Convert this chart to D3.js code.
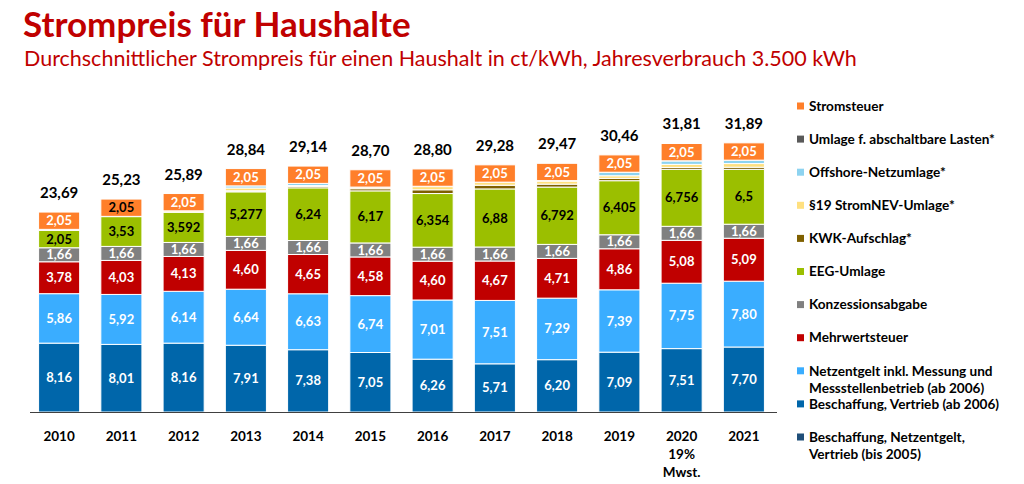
<!DOCTYPE html>
<html>
<head>
<meta charset="utf-8">
<script src="https://cdn.jsdelivr.net/npm/d3@7"></script>
<style>
	body { margin: 0; background: #fff; }
	svg { font-family: Lato, "Open Sans", sans-serif; }
</style>
</head>
<body>
<script>
// Data (ct/kWh)
const years = ["2010", "2011", "2012", "2013", "2014", "2015", "2016", "2017", "2018", "2019", "2020", "2021"];
const totals = [23.69, 25.23, 25.89, 28.84, 29.14, 28.70, 28.80, 29.28, 29.47, 30.46, 31.81, 31.89];

const beschaffung = [8.16, 8.01, 8.16, 7.91, 7.38, 7.05, 6.26, 5.71, 6.20, 7.09, 7.51, 7.70];
const netzentgelt = [5.86, 5.92, 6.14, 6.64, 6.63, 6.74, 7.01, 7.51, 7.29, 7.39, 7.75, 7.80];
const mehrwertsteuer = [3.78, 4.03, 4.13, 4.60, 4.65, 4.58, 4.60, 4.67, 4.71, 4.86, 5.08, 5.09];
const konzession = [1.66, 1.66, 1.66, 1.66, 1.66, 1.66, 1.66, 1.66, 1.66, 1.66, 1.66, 1.66];
const eeg = [2.05, 3.53, 3.592, 5.277, 6.24, 6.17, 6.354, 6.88, 6.792, 6.405, 6.756, 6.5];
const kwk = [0.13, 0.03, 0.002, 0.126, 0.178, 0.254, 0.445, 0.438, 0.345, 0.28, 0.226, 0.254];
const stromnev = [0, 0, 0.151, 0.329, 0.092, 0.19, 0.378, 0.36, 0.37, 0.305, 0.358, 0.432];
const offshore = [0, 0, 0, 0.25, 0.25, 0, 0.04, 0, 0.037, 0.416, 0.416, 0.395];
const abschaltbar = [0, 0, 0, 0, 0.009, 0.006, 0, 0.006, 0.011, 0.005, 0.007, 0.009];
const stromsteuer = [2.05, 2.05, 2.05, 2.05, 2.05, 2.05, 2.05, 2.05, 2.05, 2.05, 2.05, 2.05];

const series = [
	{ key: "beschaffung", values: beschaffung, color: "#0066AA", label: true, text: "#fff" },
	{ key: "netzentgelt", values: netzentgelt, color: "#3AADFF", label: true, text: "#fff" },
	{ key: "mehrwertsteuer", values: mehrwertsteuer, color: "#C00000", label: true, text: "#fff" },
	{ key: "konzession", values: konzession, color: "#808080", label: true, text: "#fff" },
	{ key: "eeg", values: eeg, color: "#9BBF00", label: true, text: "#000" },
	{ key: "kwk", values: kwk, color: "#7F6000", label: false },
	{ key: "stromnev", values: stromnev, color: "#FFE07F", label: false },
	{ key: "offshore", values: offshore, color: "#8DD3F0", label: false },
	{ key: "abschaltbar", values: abschaltbar, color: "#595959", label: false },
	{ key: "stromsteuer", values: stromsteuer, color: "#FF7F2A", label: true, text: "#fff" },
];

const legendItems = [
	{ color: "#FF7F2A", lines: ["Stromsteuer"] },
	{ color: "#595959", lines: ["Umlage f. abschaltbare Lasten*"] },
	{ color: "#8DD3F0", lines: ["Offshore-Netzumlage*"] },
	{ color: "#FFE07F", lines: ["§19 StromNEV-Umlage*"] },
	{ color: "#7F6000", lines: ["KWK-Aufschlag*"] },
	{ color: "#9BBF00", lines: ["EEG-Umlage"] },
	{ color: "#808080", lines: ["Konzessionsabgabe"] },
	{ color: "#C00000", lines: ["Mehrwertsteuer"] },
	{ color: "#3AADFF", lines: ["Netzentgelt inkl. Messung und", "Messstellenbetrieb (ab 2006)"] },
	{ color: "#0066AA", lines: ["Beschaffung, Vertrieb (ab 2006)"] },
	{ color: "#1F4E79", lines: ["Beschaffung, Netzentgelt,", "Vertrieb (bis 2005)"] },
];

const w = 1024;
const h = 484;
const baseY = 412;

const svg = d3.select("body").append("svg").attr("width", w).attr("height", h);

// Title
svg.append("text")
	.attr("x", 23)
	.attr("y", 37)
	.attr("fill", "#C00000")
	.attr("font-size", 35)
	.attr("font-weight", "bold")
	.text("Strompreis für Haushalte");

svg.append("text")
	.attr("x", 24)
	.attr("y", 66)
	.attr("fill", "#C00000")
	.attr("font-size", 21.5)
	.text("Durchschnittlicher Strompreis für einen Haushalt in ct/kWh, Jahresverbrauch 3.500 kWh");

// Scales
const x = d3.scaleBand().domain(years).range([28, 775]).paddingInner(0.34).paddingOuter(0.17);
const y = d3.scaleLinear().domain([0, 32]).range([baseY, baseY - 32 * 8.44]);

// Stack
const table = years.map((yr, i) => {
	const row = { year: yr };
	series.forEach((s) => (row[s.key] = s.values[i]));
	return row;
});
const stacked = d3.stack().keys(series.map((s) => s.key))(table);

const layers = svg.selectAll("g.layer")
	.data(stacked)
	.enter()
	.append("g")
	.attr("class", "layer")
	.attr("fill", (d, i) => series[i].color);

layers.selectAll("rect")
	.data((d) => d)
	.enter()
	.append("rect")
	.attr("x", (d) => x(d.data.year))
	.attr("width", x.bandwidth())
	.attr("y", (d) => y(d[1]))
	.attr("height", (d) => Math.max(0, y(d[0]) - y(d[1])))
	.attr("stroke", "#fff")
	.attr("stroke-width", 1);

// Segment labels
stacked.forEach((layer, si) => {
	const s = series[si];
	if (!s.label) return;
	svg.append("g")
		.selectAll("text")
		.data(layer)
		.enter()
		.append("text")
		.attr("x", (d) => x(d.data.year) + x.bandwidth() / 2)
		.attr("y", (d) => (y(d[0]) + y(d[1])) / 2)
		.attr("dy", "0.35em")
		.attr("text-anchor", "middle")
		.attr("font-size", 13)
		.attr("font-weight", "bold")
		.attr("fill", (d, i) => (s.key === "stromsteuer" && i === 1 ? "#000" : s.text))
		.text((d) => {
			const v = d[1] - d[0];
			const str = s.key === "eeg" ? String(s.values[years.indexOf(d.data.year)]) : v.toFixed(2);
			return str.replace(".", ",");
		});
});

// Totals above bars
const topLayer = stacked[stacked.length - 1];
svg.append("g")
	.selectAll("text")
	.data(topLayer)
	.enter()
	.append("text")
	.attr("x", (d) => x(d.data.year) + x.bandwidth() / 2)
	.attr("y", (d) => y(d[1]) - 14)
	.attr("text-anchor", "middle")
	.attr("font-size", 15)
	.attr("font-weight", "bold")
	.attr("fill", "#000")
	.text((d, i) => totals[i].toFixed(2).replace(".", ","));

// Baseline
svg.append("line")
	.attr("x1", 30)
	.attr("x2", 777)
	.attr("y1", baseY + 0.5)
	.attr("y2", baseY + 0.5)
	.attr("stroke", "#404040")
	.attr("stroke-width", 1);

// Year labels
const yearLabels = svg.append("g")
	.selectAll("text")
	.data(years)
	.enter()
	.append("text")
	.attr("x", (d) => x(d) + x.bandwidth() / 2)
	.attr("y", 441)
	.attr("text-anchor", "middle")
	.attr("font-size", 13.5)
	.attr("font-weight", "bold")
	.attr("fill", "#000");

yearLabels.each(function (d) {
	const lines = d === "2020" ? [d, "19%", "Mwst."] : [d];
	const t = d3.select(this);
	lines.forEach((l, i) => {
		t.append("tspan")
			.attr("x", x(d) + x.bandwidth() / 2)
			.attr("dy", i === 0 ? 0 : 18)
			.text(l);
	});
});

// Legend
const legend = svg.append("g").attr("id", "legend");
legendItems.forEach((item, i) => {
	const cy = 106 + i * 33.1;
	legend.append("rect")
		.attr("x", 797)
		.attr("y", cy - 3.5)
		.attr("width", 7)
		.attr("height", 7)
		.attr("fill", item.color);
	item.lines.forEach((l, j) => {
		legend.append("text")
			.attr("x", 809)
			.attr("y", cy + j * 17.5)
			.attr("dy", "0.35em")
			.attr("font-size", 13.6)
			.attr("font-weight", "bold")
			.attr("fill", "#000")
			.text(l);
	});
});
</script>
</body>
</html>
